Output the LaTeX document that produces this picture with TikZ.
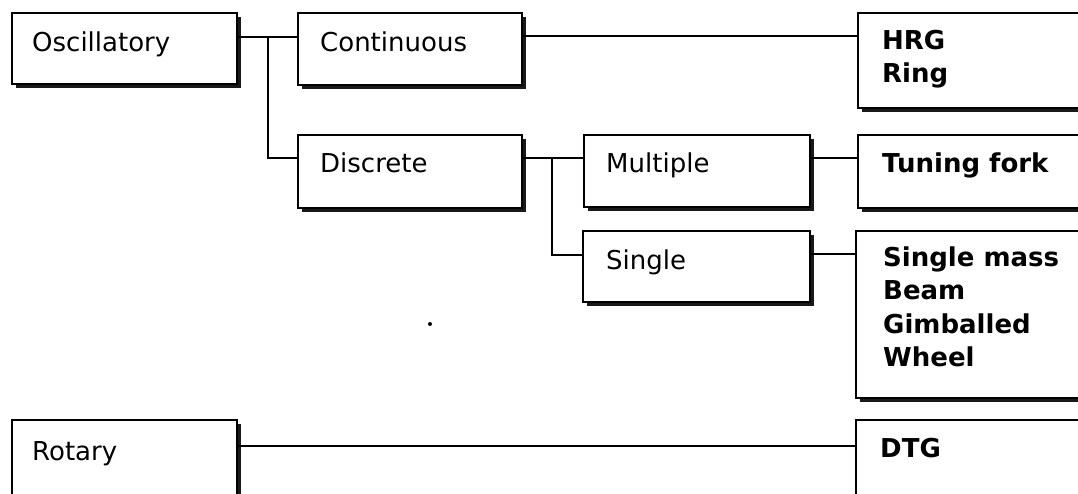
\documentclass[tikz,border=0pt]{standalone}
\usepackage{fontspec}
\setmainfont{DejaVu Sans}
\usetikzlibrary{shadows}
\begin{document}
\begin{tikzpicture}[x=1pt,y=-1pt,
  box/.style={draw, line width=1.7pt, fill=white, inner sep=0pt, outer sep=0pt,
    anchor=north west, rectangle,
    drop shadow={shadow xshift=4pt, shadow yshift=-4pt, fill=black, opacity=0.9}},
  lbl/.style={anchor=base west, inner sep=0pt, font=\fontsize{26}{33}\selectfont},
  rlbl/.style={anchor=base west, inner sep=0pt, font=\fontsize{26}{33}\selectfont\bfseries},
  conn/.style={line width=1.6pt}]
\useasboundingbox (0,0) rectangle (1078,493);
\clip (0,0) rectangle (1078,493);
% boxes
\node[box, minimum width=225pt, minimum height=71pt] (osc) at (12,13) {};
\node[box, minimum width=224pt, minimum height=72pt] (cont) at (298,13) {};
\node[box, minimum width=224pt, minimum height=73pt] (disc) at (298,135) {};
\node[box, minimum width=226pt, minimum height=72pt] (mult) at (584,135) {};
\node[box, minimum width=227pt, minimum height=71pt] (sing) at (583,231) {};
\node[box, minimum width=240pt, minimum height=95pt] (hrg) at (858,13) {};
\node[box, minimum width=240pt, minimum height=73pt] (tune) at (858,135) {};
\node[box, minimum width=240pt, minimum height=167pt] (smass) at (856,231) {};
\node[box, minimum width=225pt, minimum height=90pt] (rot) at (12,420) {};
\node[box, minimum width=240pt, minimum height=90pt] (dtg) at (856,420) {};
% texts
\node[lbl] (tosc) at (32,51) {Oscillatory};
\node[lbl] (tcont) at (320,51) {Continuous};
\node[lbl] (tdisc) at (320,172) {Discrete};
\node[lbl] (tmult) at (606,172) {Multiple};
\node[lbl] (tsing) at (606,269) {Single};
\node[lbl] (trot) at (32,460) {Rotary};
\node[rlbl] (thrg) at (882,49) {HRG};
\node[rlbl] (tring) at (882,82) {Ring};
\node[rlbl] (ttune) at (882,172) {Tuning fork};
\node[rlbl] (tsm) at (883,266) {Single mass};
\node[rlbl] (tbeam) at (883,299) {Beam};
\node[rlbl] (tgim) at (883,333) {Gimballed};
\node[rlbl] (twheel) at (883,366) {Wheel};
\node[rlbl] (tdtg) at (880,457) {DTG};
% connectors
\coordinate (j1) at (268,37);
\coordinate (j2) at (552,158);
\draw[conn] ([yshift=-24pt]osc.north east) -- ([yshift=-24pt]cont.north west);
\draw[conn] (j1) |- ([yshift=-23pt]disc.north west);
\draw[conn] ([yshift=-23pt]cont.north east) -- ([yshift=-23pt]hrg.north west);
\draw[conn] ([yshift=-23pt]disc.north east) -- ([yshift=-23pt]mult.north west);
\draw[conn] (j2) |- ([yshift=-24pt]sing.north west);
\draw[conn] ([yshift=-23pt]mult.north east) -- ([yshift=-23pt]tune.north west);
\draw[conn] ([yshift=-23pt]sing.north east) -- ([yshift=-23pt]smass.north west);
\draw[conn] ([yshift=-26pt]rot.north east) -- ([yshift=-26pt]dtg.north west);
% stray dot
\fill (430,324) circle (2pt);
\end{tikzpicture}
\end{document}
